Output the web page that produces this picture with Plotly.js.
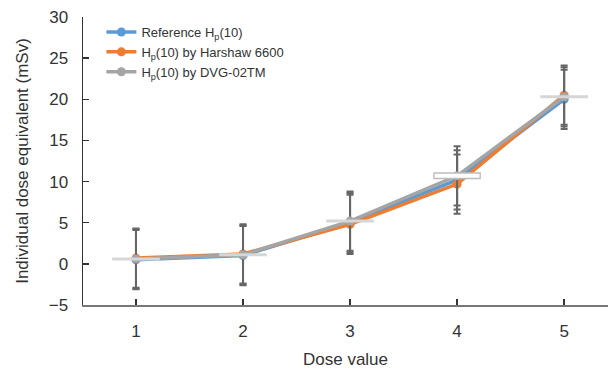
<!DOCTYPE html>
<html>
<head>
<meta charset="utf-8">
<script src="https://cdn.plot.ly/plotly-3.0.1.min.js"></script>
<style>html,body{margin:0;padding:0;background:#fff;}#chart{width:611px;height:373px;}</style>
</head>
<body>
<div id="chart"></div>
<script>
const doseValues = [1, 2, 3, 4, 5];
const referenceHp = [0.5, 1.0, 5.0, 10.2, 20.0];
const harshawHp = [0.7, 1.2, 4.8, 9.7, 20.5];
const dvgHp = [0.6, 1.1, 5.2, 10.7, 20.3];
const referenceErr = [3.6, 3.6, 3.6, 3.6, 3.6];
const harshawErr = [3.6, 3.6, 3.6, 3.6, 3.6];
const dvgErr = [3.6, 3.6, 3.6, 3.6, 3.6];
const seriesNames = ['Reference H<sub>p</sub>(10)', 'H<sub>p</sub>(10) by Harshaw 6600', 'H<sub>p</sub>(10) by DVG-02TM'];
const xTickLabels = ['1', '2', '3', '4', '5'];
const yTickVals = [-5, 0, 5, 10, 15, 20, 25, 30];

const colors = ['#5B9BD5', '#ED7D31', '#A5A5A5'];
const ys = [referenceHp, harshawHp, dvgHp];
const errs = [referenceErr, harshawErr, dvgErr];

const traces = ys.map((y, i) => ({
  type: 'scatter', mode: 'lines+markers', x: doseValues, y: y, name: seriesNames[i],
  line: {color: colors[i], width: 3.5},
  marker: {color: colors[i], size: 9},
  error_y: {type: 'data', array: errs[i], visible: true, color: '#666666', thickness: 2, width: 3.5}
}));

// horizontal light dash markers drawn over the DVG points
traces.push({
  type: 'scatter', mode: 'markers', x: doseValues, y: dvgHp, showlegend: false, hoverinfo: 'skip',
  marker: {symbol: 'line-ew', size: 34, color: '#cfcfcf',
    line: {color: ['#d6d6d6', '#d6d6d6', '#d6d6d6', '#bdbdbd', '#d6d6d6'], width: [3, 3, 3, 7, 3]}}
});
traces.push({
  type: 'scatter', mode: 'markers', x: doseValues, y: dvgHp, showlegend: false, hoverinfo: 'skip',
  marker: {symbol: 'line-ew', size: 32, color: '#ffffff',
    line: {color: ['rgba(0,0,0,0)', 'rgba(0,0,0,0)', 'rgba(0,0,0,0)', '#ffffff', 'rgba(0,0,0,0)'], width: [1, 1, 1, 4, 1]}}
});

const font = {family: 'Liberation Sans, Arial, sans-serif', color: '#333333'};

const layout = {
  width: 611, height: 373,
  margin: {l: 83, r: 3, t: 17, b: 68},
  paper_bgcolor: '#ffffff', plot_bgcolor: '#ffffff',
  font: font,
  showlegend: true,
  legend: {x: 0.035, y: 1.0, xanchor: 'left', yanchor: 'top', bgcolor: 'rgba(0,0,0,0)',
    font: {family: font.family, size: 13, color: '#333333'}, tracegroupgap: 0, itemwidth: 30},
  xaxis: {
    range: [0.505, 5.41], tickvals: doseValues, ticktext: xTickLabels,
    showgrid: false, zeroline: false, showline: true, linecolor: '#777777', linewidth: 1.5,
    ticks: 'inside', ticklen: 6, tickwidth: 1.5, tickcolor: '#333333',
    tickfont: {size: 17, color: '#333333'}, ticklabelstandoff: 10,
    title: {text: 'Dose value', font: {size: 17, color: '#333333'}, standoff: 13}
  },
  yaxis: {
    range: [-5, 30], tickvals: yTickVals,
    showgrid: false, zeroline: false, showline: true, linecolor: '#333333', linewidth: 1.5,
    ticks: 'inside', ticklen: 6, tickwidth: 1.5, tickcolor: '#333333',
    tickfont: {size: 17, color: '#333333'}, ticklabelstandoff: 10,
    title: {text: 'Individual dose equivalent (mSv)', font: {size: 17, color: '#333333'}, standoff: 16}
  }
};

Plotly.newPlot('chart', traces, layout, {staticPlot: true, displayModeBar: false});
</script>
</body>
</html>
